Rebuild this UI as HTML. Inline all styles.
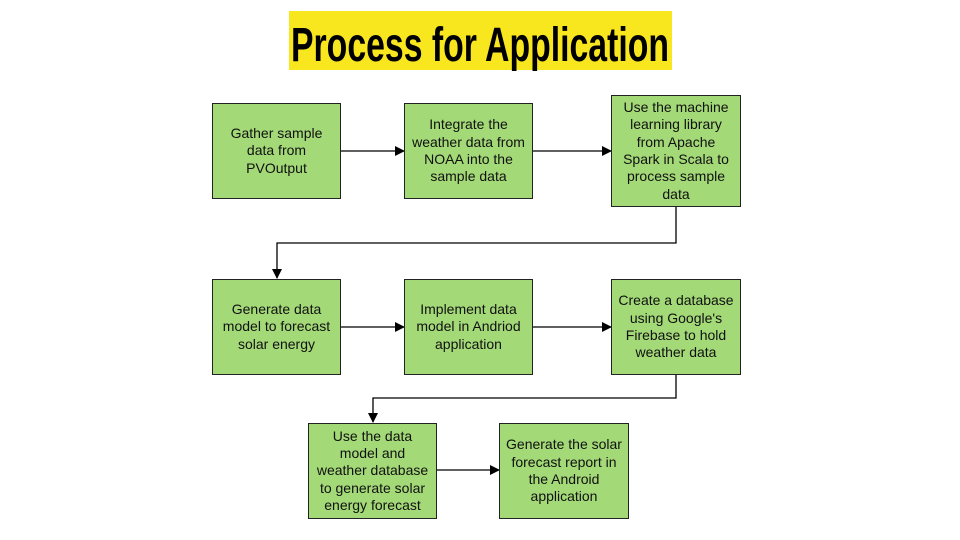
<!DOCTYPE html>
<html><head><meta charset="utf-8"><style>
body{margin:0;width:960px;height:540px;background:#fff;position:relative;overflow:hidden;font-family:"Liberation Sans",sans-serif}
.b{position:absolute;box-sizing:border-box;background:#a3d977;border:1.5px solid #222;display:flex;align-items:center;justify-content:center;text-align:center;font-size:14px;line-height:17.3px;color:#111;padding:0;white-space:nowrap}
svg{position:absolute;left:0;top:0}
</style></head><body>
<svg width="960" height="540">
<rect x="289" y="11" width="383" height="59" fill="#f8e61f"/>
<text x="291" y="61" font-family="Liberation Sans" font-weight="bold" font-size="48" textLength="378" lengthAdjust="spacingAndGlyphs" fill="#000">Process for Application</text>
<defs><marker id="a" markerWidth="10" markerHeight="10" refX="9" refY="5" orient="auto" markerUnits="userSpaceOnUse"><path d="M0,0 L10,5 L0,10z" fill="#000"/></marker></defs>
<g stroke="#000" stroke-width="1.3" fill="none" marker-end="url(#a)">
<path d="M341,151 H404"/>
<path d="M532,151 H611"/>
<path d="M676,207 V243 H277 V278"/>
<path d="M341,327 H404"/>
<path d="M532,327 H611"/>
<path d="M676,375 V398 H373 V422"/>
<path d="M436,470 H499"/>
</g>
</svg>
<div class="b" style="left:212px;top:103px;width:129px;height:96px">Gather sample<br>data from<br>PVOutput</div>
<div class="b" style="left:404px;top:103px;width:129px;height:96px">Integrate the<br>weather data from<br>NOAA into the<br>sample data</div>
<div class="b" style="left:611px;top:95px;width:130px;height:112px">Use the machine<br>learning library<br>from Apache<br>Spark in Scala to<br>process sample<br>data</div>
<div class="b" style="left:212px;top:279px;width:129px;height:96px">Generate data<br>model to forecast<br>solar energy</div>
<div class="b" style="left:404px;top:279px;width:129px;height:96px">Implement data<br>model in Andriod<br>application</div>
<div class="b" style="left:611px;top:279px;width:130px;height:96px">Create a database<br>using Google's<br>Firebase to hold<br>weather data</div>
<div class="b" style="left:308px;top:423px;width:129px;height:96px">Use the data<br>model and<br>weather database<br>to generate solar<br>energy forecast</div>
<div class="b" style="left:499px;top:423px;width:130px;height:96px">Generate the solar<br>forecast report in<br>the Android<br>application</div>
</body></html>
